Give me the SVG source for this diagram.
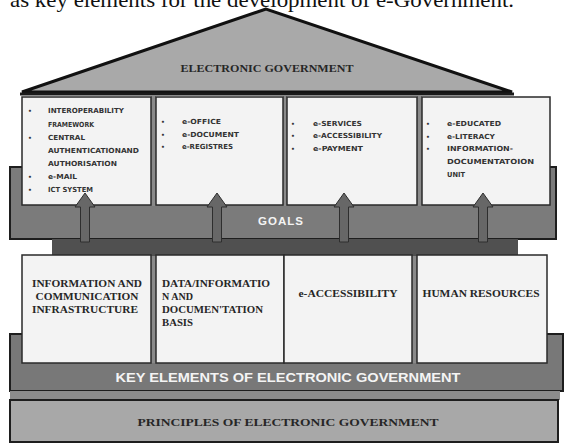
<svg xmlns="http://www.w3.org/2000/svg" width="566" height="447" viewBox="0 0 566 447">
<style>
.box{fill:#f3f3f3;stroke:#2a2a2a;stroke-width:1.5}
.sm{font-family:"DejaVu Sans",sans-serif;font-weight:bold;font-size:7px;fill:#333}
.bl{font-family:"DejaVu Sans",sans-serif;font-weight:bold;font-size:6px;fill:#333}
.sf{font-family:"Liberation Serif",serif;font-weight:bold;font-size:9.5px;fill:#262626}
.wh{font-family:"Liberation Sans",sans-serif;font-weight:bold;fill:#f4f4f4}
.arrow{fill:#676767;stroke:#2e2e2e;stroke-width:1}
</style>
<rect width="566" height="447" fill="#ffffff"/>
<text x="10" y="7" font-family="Liberation Serif, serif" font-size="22" fill="#111" textLength="504" lengthAdjust="spacingAndGlyphs">as key elements for the development of e-Government.</text>

<g id="goals">
<rect x="10" y="167" width="546" height="72" fill="#7b7b7b" stroke="#1e1e1e" stroke-width="2"/>
<rect x="52" y="239" width="466" height="19" fill="#505050"/>
<text class="wh" x="281" y="225" font-size="11.5" text-anchor="middle" letter-spacing="1">GOALS</text>
</g>

<g id="keyband">
<rect x="10" y="334" width="553" height="57" fill="#787878" stroke="#1e1e1e" stroke-width="2"/>
<rect x="10" y="391" width="550" height="9" fill="#8c8c8c"/>
<text class="wh" x="288" y="382" font-size="12" text-anchor="middle" textLength="345" lengthAdjust="spacingAndGlyphs">KEY ELEMENTS OF ELECTRONIC GOVERNMENT</text>
</g>

<g id="principles">
<rect x="10" y="400" width="548" height="42" fill="#a8a8a8" stroke="#1e1e1e" stroke-width="2"/>
<text class="sf" x="288" y="426" font-size="11" text-anchor="middle" textLength="301" lengthAdjust="spacingAndGlyphs">PRINCIPLES OF ELECTRONIC GOVERNMENT</text>
</g>

<g id="roof">
<polygon points="266,9 22,92 512,92" fill="#a9a9a9" stroke="#111" stroke-width="3" stroke-linejoin="miter"/>
<line x1="20" y1="94" x2="514" y2="94" stroke="#1a1a1a" stroke-width="3"/>
<text class="sf" x="267" y="72" font-size="11" text-anchor="middle" textLength="173" lengthAdjust="spacingAndGlyphs">ELECTRONIC GOVERNMENT</text>
</g>

<rect x="151" y="96" width="5" height="110" fill="#8a8a8a"/>
<rect x="283" y="96" width="4" height="110" fill="#8a8a8a"/>
<rect x="417" y="96" width="5" height="110" fill="#8a8a8a"/>

<g id="top1">
<rect class="box" x="22" y="97" width="129" height="108"/>
<text class="bl" x="28" y="113">•</text>
<text class="sm" x="48" y="113" textLength="76" lengthAdjust="spacingAndGlyphs">INTEROPERABILITY</text>
<text class="sm" x="48" y="126.5" textLength="46" lengthAdjust="spacingAndGlyphs">FRAMEWORK</text>
<text class="bl" x="28" y="140">•</text>
<text class="sm" x="48" y="140" textLength="37" lengthAdjust="spacingAndGlyphs">CENTRAL</text>
<text class="sm" x="48" y="153" textLength="91" lengthAdjust="spacingAndGlyphs">AUTHENTICATIONAND</text>
<text class="sm" x="48" y="166" textLength="69" lengthAdjust="spacingAndGlyphs">AUTHORISATION</text>
<text class="bl" x="28" y="179">•</text>
<text class="sm" x="48" y="179" textLength="29" lengthAdjust="spacingAndGlyphs">e-MAIL</text>
<text class="bl" x="28" y="192">•</text>
<text class="sm" x="48" y="192" textLength="45" lengthAdjust="spacingAndGlyphs">ICT SYSTEM</text>
</g>

<g id="top2">
<rect class="box" x="156" y="97" width="127" height="108"/>
<text class="bl" x="161" y="124">•</text>
<text class="sm" x="182" y="124" textLength="39" lengthAdjust="spacingAndGlyphs">e-OFFICE</text>
<text class="bl" x="161" y="136.5">•</text>
<text class="sm" x="182" y="136.5" textLength="57" lengthAdjust="spacingAndGlyphs">e-DOCUMENT</text>
<text class="bl" x="161" y="149">•</text>
<text class="sm" x="182" y="149" textLength="51" lengthAdjust="spacingAndGlyphs">e-REGISTRES</text>
</g>

<g id="top3">
<rect class="box" x="287" y="97" width="130" height="108"/>
<text class="bl" x="291" y="125.5">•</text>
<text class="sm" x="313" y="125.5" textLength="49" lengthAdjust="spacingAndGlyphs">e-SERVICES</text>
<text class="bl" x="291" y="138">•</text>
<text class="sm" x="313" y="138" textLength="69" lengthAdjust="spacingAndGlyphs">e-ACCESSIBILITY</text>
<text class="bl" x="291" y="150.5">•</text>
<text class="sm" x="313" y="150.5" textLength="50" lengthAdjust="spacingAndGlyphs">e-PAYMENT</text>
</g>

<g id="top4">
<rect class="box" x="422" y="97" width="128" height="108"/>
<text class="bl" x="426" y="126">•</text>
<text class="sm" x="447" y="126" textLength="54" lengthAdjust="spacingAndGlyphs">e-EDUCATED</text>
<text class="bl" x="426" y="138.5">•</text>
<text class="sm" x="447" y="138.5" textLength="48" lengthAdjust="spacingAndGlyphs">e-LITERACY</text>
<text class="bl" x="426" y="151">•</text>
<text class="sm" x="447" y="151" textLength="66" lengthAdjust="spacingAndGlyphs">INFORMATION-</text>
<text class="sm" x="447" y="164" textLength="87" lengthAdjust="spacingAndGlyphs">DOCUMENTATOION</text>
<text class="sm" x="447" y="177" textLength="18" lengthAdjust="spacingAndGlyphs">UNIT</text>
</g>

<g id="connectors">
<polygon class="arrow" points="85,193 95,207 89.5,207 89.5,242 80.5,242 80.5,207 75,207"/>
<polygon class="arrow" points="217,193 227,207 221.5,207 221.5,242 212.5,242 212.5,207 207,207"/>
<polygon class="arrow" points="344,193 354,207 348.5,207 348.5,242 339.5,242 339.5,207 334,207"/>
<polygon class="arrow" points="483,193 493,207 487.5,207 487.5,242 478.5,242 478.5,207 473,207"/>
</g>

<rect x="151" y="256" width="5" height="107" fill="#8a8a8a"/>
<rect x="412" y="256" width="5" height="107" fill="#8a8a8a"/>

<g id="key1">
<rect class="box" x="22" y="255" width="129" height="108"/>
<text class="sf" x="87" y="287" text-anchor="middle" textLength="110" lengthAdjust="spacingAndGlyphs">INFORMATION AND</text>
<text class="sf" x="87" y="300" text-anchor="middle" textLength="103" lengthAdjust="spacingAndGlyphs">COMMUNICATION</text>
<text class="sf" x="85" y="313" text-anchor="middle" textLength="106" lengthAdjust="spacingAndGlyphs">INFRASTRUCTURE</text>
</g>

<g id="key2">
<rect class="box" x="156" y="255" width="128" height="108"/>
<text class="sf" x="162" y="287" textLength="108" lengthAdjust="spacingAndGlyphs">DATA/INFORMATIO</text>
<text class="sf" x="162" y="300" textLength="31" lengthAdjust="spacingAndGlyphs">N AND</text>
<text class="sf" x="162" y="313" textLength="101" lengthAdjust="spacingAndGlyphs">DOCUMEN'TATION</text>
<text class="sf" x="162" y="326" textLength="31" lengthAdjust="spacingAndGlyphs">BASIS</text>
</g>

<g id="key3">
<rect class="box" x="284" y="255" width="128" height="108"/>
<text class="sf" x="348" y="297" text-anchor="middle" textLength="99" lengthAdjust="spacingAndGlyphs">e-ACCESSIBILITY</text>
</g>

<g id="key4">
<rect class="box" x="417" y="255" width="130" height="108"/>
<text class="sf" x="481" y="297" text-anchor="middle" textLength="117" lengthAdjust="spacingAndGlyphs">HUMAN RESOURCES</text>
</g>
</svg>
